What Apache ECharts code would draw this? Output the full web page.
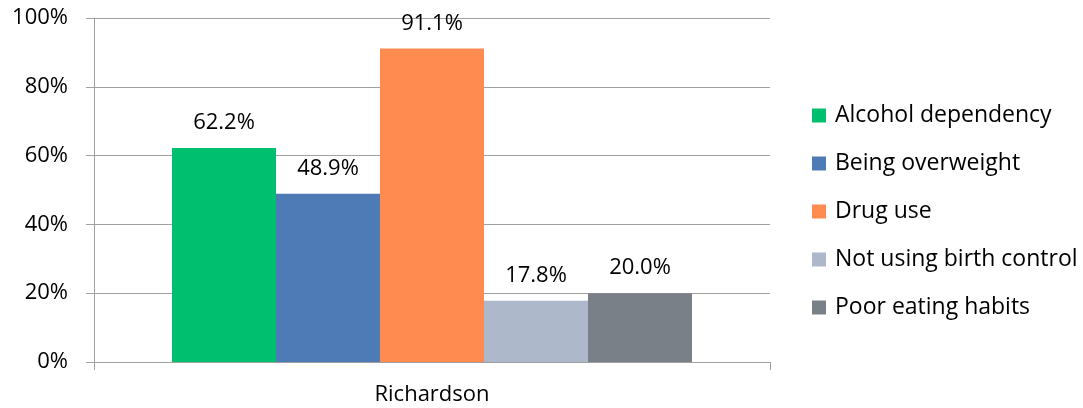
<!DOCTYPE html>
<html><head><meta charset="utf-8">
<script src="https://cdn.jsdelivr.net/npm/echarts@6/dist/echarts.min.js"></script>
<style>html,body{margin:0;padding:0;background:#fff}#c{width:1083px;height:408px}</style>
</head><body><div id="c"></div>
<script>
const categories = ['Richardson'];
const seriesNames = ['Alcohol dependency','Being overweight','Drug use','Not using birth control','Poor eating habits'];
const alcohol = [62.2];
const overweight = [48.9];
const drugs = [91.1];
const birthControl = [17.8];
const eating = [20.0];
const yTicks = [0,20,40,60,80,100];
const colors = ['#00BF6F','#4E7AB5','#FF8B50','#ADB8CA','#7A8088'];
const values = [alcohol, overweight, drugs, birthControl, eating];
const FONT = 'Open Sans';
const FS = 22;
const chart = echarts.init(document.getElementById('c'));
chart.setOption({
  animation:false,
  textStyle:{fontFamily:FONT},
  grid:{left:94,right:313,top:18,bottom:46,containLabel:false},
  legend:{
    orient:'vertical', left:807, top:99,
    itemWidth:14, itemHeight:14, itemGap:25, icon:'rect',
    textStyle:{fontFamily:FONT,fontSize:23,color:'#000',padding:[0,0,0,4]},
    data:seriesNames
  },
  xAxis:{
    type:'category', data:categories,
    axisLine:{lineStyle:{color:'#a0a0a0',width:1}},
    axisTick:{show:true,length:8,lineStyle:{color:'#a0a0a0'}},
    axisLabel:{fontFamily:FONT,fontSize:FS,color:'#000',margin:22}
  },
  yAxis:{
    type:'value', min:yTicks[0], max:yTicks[yTicks.length-1], interval:20,
    axisLine:{show:true,lineStyle:{color:'#a0a0a0'}},
    axisTick:{show:true,length:8,lineStyle:{color:'#a0a0a0'}},
    splitLine:{lineStyle:{color:'#a0a0a0'}},
    axisLabel:{fontFamily:FONT,fontSize:FS,color:'#000',margin:26,formatter:v=>v+'%'}
  },
  series: seriesNames.map((n,i)=>({
    name:n, type:'bar', data:values[i], barGap:'0%', barCategoryGap:'23.08%',
    itemStyle:{color:colors[i]},
    label:{show:true,position:'top',distance:14,fontFamily:FONT,fontSize:FS,color:'#000',formatter:p=>p.value.toFixed(1)+'%'}
  }))
});
</script></body></html>
